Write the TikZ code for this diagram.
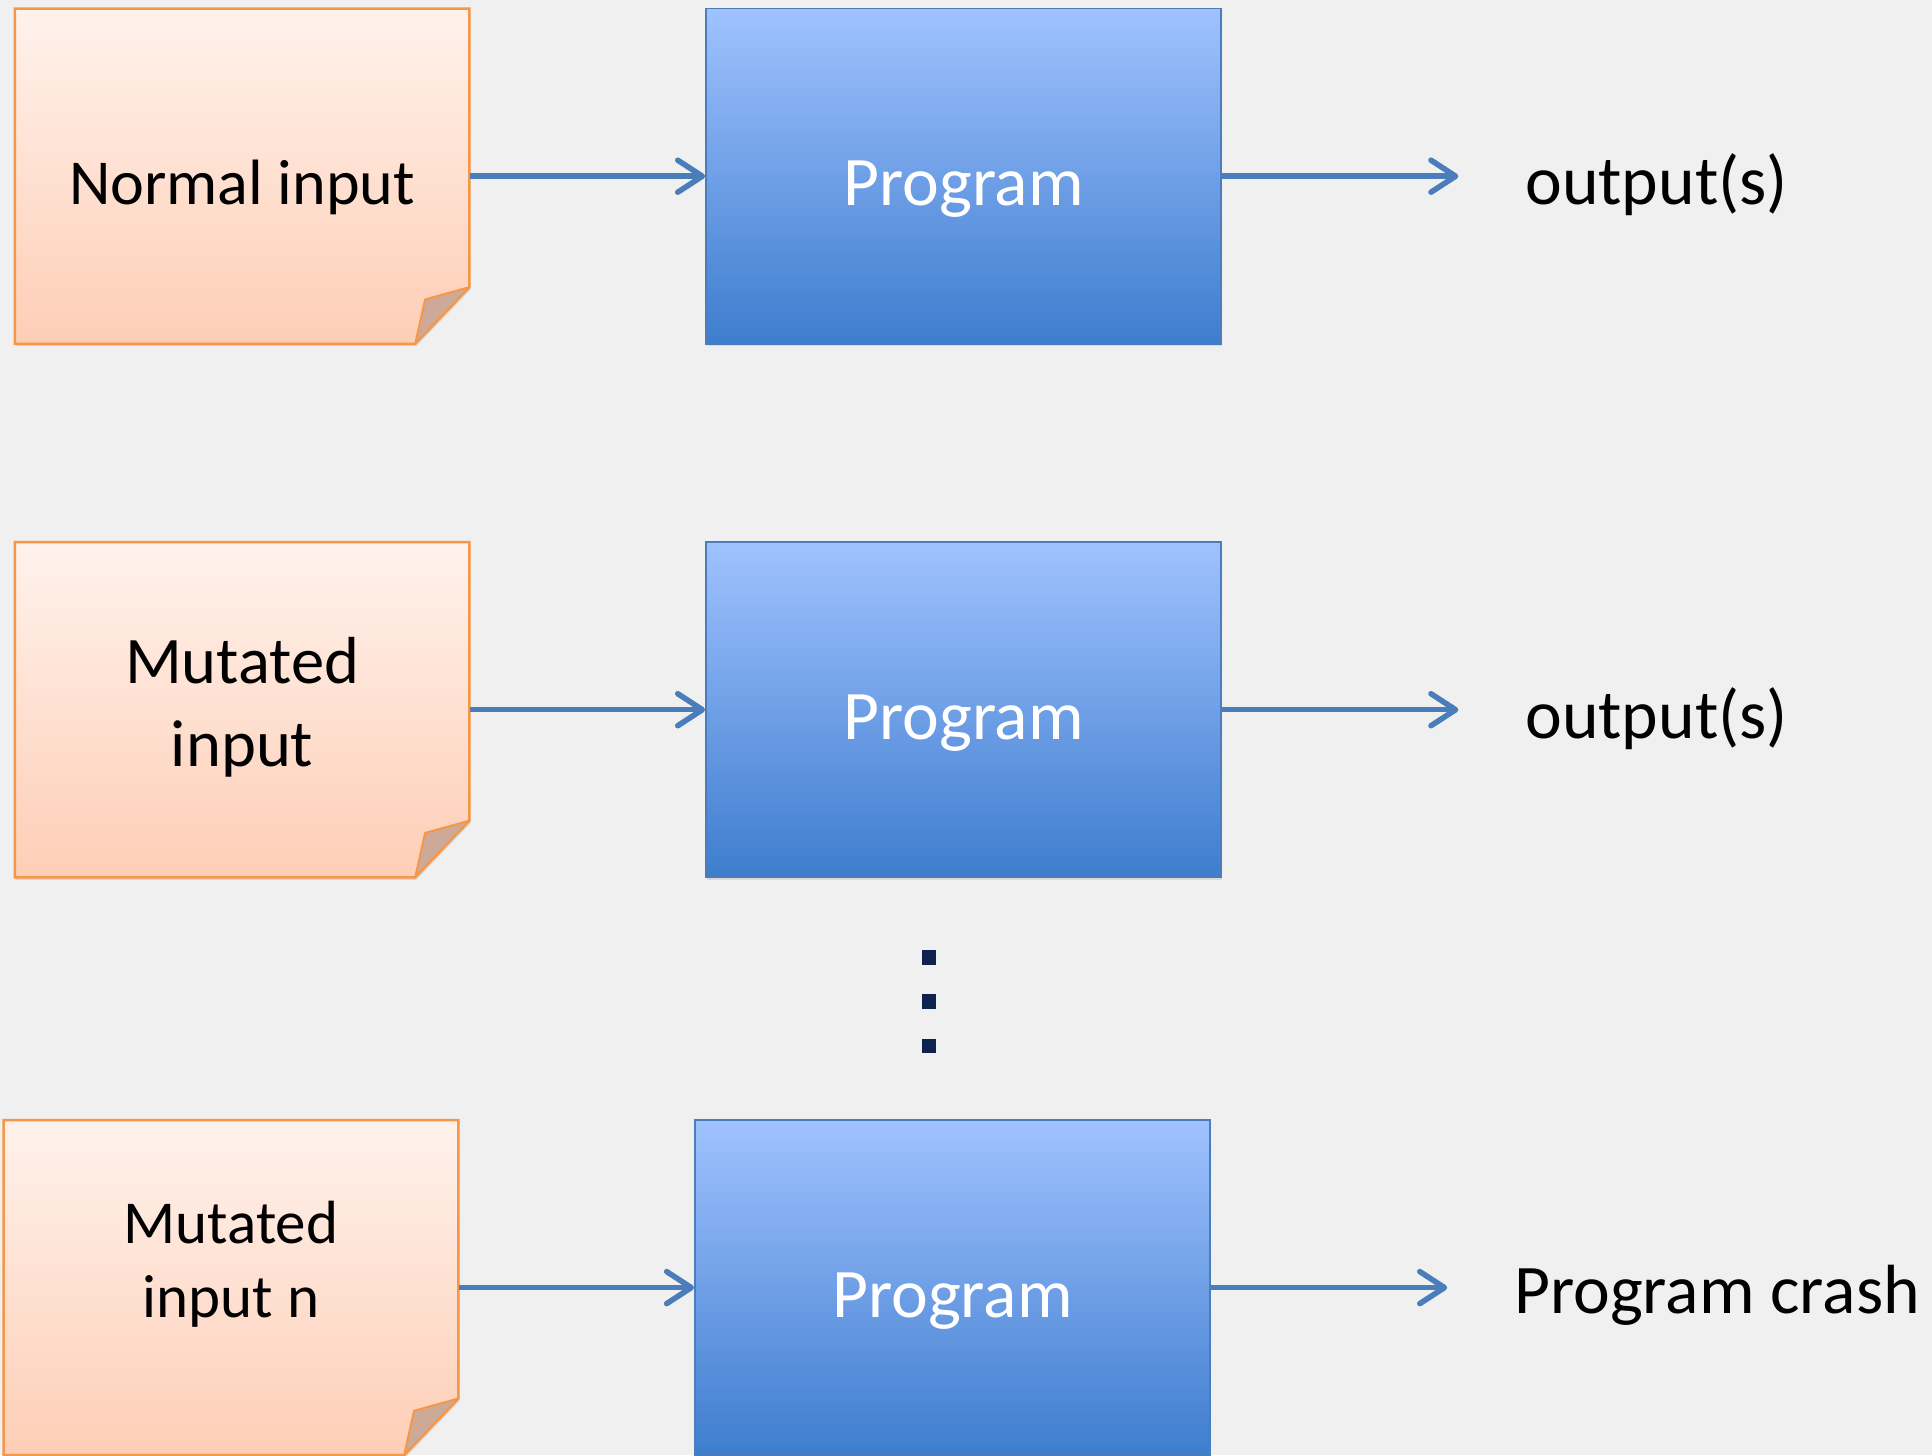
\documentclass[tikz,border=0pt]{standalone}
\usepackage{fontspec}
\setmainfont{Carlito}
\usetikzlibrary{arrows.meta,shadows}

\definecolor{bgcol}{RGB}{240,240,240}
\definecolor{notetop}{RGB}{255,242,236}
\definecolor{notebot}{RGB}{254,206,182}
\definecolor{noteline}{RGB}{247,150,70}
\definecolor{foldcol}{RGB}{205,170,152}
\definecolor{progtop}{RGB}{160,194,255}
\definecolor{progbot}{RGB}{62,125,206}
\definecolor{progline}{RGB}{74,126,187}
\definecolor{flowcol}{RGB}{74,126,187}
\definecolor{dotcol}{RGB}{14,34,80}

\tikzset{every picture/.style={line width=0.75pt}}
\tikzset{
	notepaper/.style={draw=noteline, line width=2pt, top color=notetop, bottom color=notebot,
		drop shadow={shadow xshift=1pt, shadow yshift=-2pt, opacity=0.2}},
	notefold/.style={draw=noteline, line width=1.6pt, fill=foldcol, line join=round},
	notetext/.style={inner sep=0pt, minimum width=369pt, align=center, font=\fontsize{52}{66}\selectfont},
	progbox/.style={draw=progline, line width=1.4pt, top color=progtop, bottom color=progbot,
		minimum width=418pt, minimum height=272pt, inner sep=0pt, text=white,
		text height=58pt, text depth=10pt, font=\fontsize{56.5}{66}\selectfont,
		drop shadow={shadow xshift=1pt, shadow yshift=-2pt, opacity=0.2}},
	outtext/.style={inner xsep=54pt, inner ysep=0pt, font=\fontsize{56.5}{66}\selectfont},
	flow/.style={draw=flowcol, line width=4.5pt, -{Straight Barb[length=20pt,width=26pt,round]}},
	vdot/.style={fill=dotcol, minimum size=12pt, inner sep=0pt}
}

\begin{document}
\begin{tikzpicture}[x=1pt,y=1pt,yscale=-1,xscale=1]
	%Background
	\fill [bgcol] (0,0) rectangle (1568,1181) ;
	\useasboundingbox (0,0) rectangle (1568,1181) ;
	
	%Shape: Note [row 1] 
	\draw [notepaper] (12,7) -- (381,7) -- (381,233) -- (337,279) -- (12,279) -- cycle ;
	\draw [notefold] (381,233) -- (345,243) -- (337,279) -- cycle ;
	%Shape: Note [row 2] 
	\draw [notepaper] (12,440) -- (381,440) -- (381,666) -- (337,712) -- (12,712) -- cycle ;
	\draw [notefold] (381,666) -- (345,676) -- (337,712) -- cycle ;
	%Shape: Note [row 3] 
	\draw [notepaper] (3,909) -- (372,909) -- (372,1135) -- (328,1181) -- (3,1181) -- cycle ;
	\draw [notefold] (372,1135) -- (336,1145) -- (328,1181) -- cycle ;
	
	% Text Node
	\draw (196.5,152) node (in1) [notetext] {Normal input};
	% Text Node
	\draw (196.5,574) node (in2) [notetext, font=\fontsize{54}{67}\selectfont] {Mutated\\input};
	% Text Node
	\draw (187.5,1026) node (in3) [notetext, font=\fontsize{49.5}{60}\selectfont] {Mutated\\input n};
	
	%Shape: Rectangle [program boxes] 
	\draw (782,143) node (prog1) [progbox] {Program};
	\draw (782,576) node (prog2) [progbox] {Program};
	\draw (773,1045) node (prog3) [progbox] {Program};
	
	% Text Node
	\draw (1344.5,150) node (out1) [outtext] {output(s)};
	% Text Node
	\draw (1344.5,583) node (out2) [outtext] {output(s)};
	% Text Node
	\draw (1393.5,1051) node (out3) [outtext] {Program crash};
	
	%Straight Lines 
	\draw [flow] (prog1.west -| in1.east) -- (prog1.west) ;
	\draw [flow] (prog1.east) -- (prog1.east -| out1.west) ;
	%Straight Lines 
	\draw [flow] (prog2.west -| in2.east) -- (prog2.west) ;
	\draw [flow] (prog2.east) -- (prog2.east -| out2.west) ;
	%Straight Lines 
	\draw [flow] (prog3.west -| in3.east) -- (prog3.west) ;
	\draw [flow] (prog3.east) -- (prog3.east -| out3.west) ;
	
	%Shape: Square [dots] 
	\node (dot1) at (754,777) [vdot] {};
	\node (dot2) at (754,813) [vdot] {};
	\node (dot3) at (754,849) [vdot] {};
	
\end{tikzpicture}
\end{document}
